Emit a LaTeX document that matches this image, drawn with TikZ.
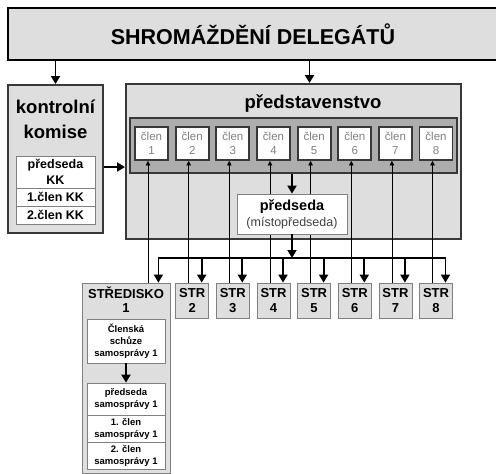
\documentclass[tikz,border=0pt]{standalone}
\usepackage{fontspec}
\setmainfont{Liberation Sans}
\usetikzlibrary{arrows.meta,positioning}
\definecolor{svetla}{gray}{0.87}
\definecolor{tmava}{gray}{0.68}
\definecolor{ramecek}{gray}{0.22}
\tikzstyle{box} = [draw, rectangle, inner sep=0pt, align=center]
\tikzstyle{arr} = [line width=1.8pt, -{Triangle[length=8pt,width=9pt]}]
\tikzstyle{tenka} = [line width=0.6pt, {Triangle[length=4.5pt,width=4.5pt]}-]

\begin{document}
\begin{tikzpicture}[x=1pt,y=-1pt]
        \useasboundingbox[fill=white] (0,0) rectangle (496,474);
        \tikzstyle{hlavni} = [box, fill=svetla, draw=ramecek, line width=2pt]
        \tikzstyle{clen} = [box, fill=white, draw=ramecek, line width=1.8pt, minimum width=33pt, minimum height=33pt, text=gray, font=\fontsize{11.5}{14}\selectfont]
        \tikzstyle{str} = [box, fill=svetla, draw=gray, line width=0.8pt, minimum width=33pt, minimum height=35pt, font=\fontsize{13}{15}\selectfont\bfseries]
        \tikzstyle{radek} = [box, fill=white, draw=gray, line width=0.7pt, font=\fontsize{9.5}{12}\selectfont\bfseries]

        \node[hlavni, line width=2.5pt, draw=black, minimum width=490pt, minimum height=52pt, font=\fontsize{21.5}{24}\selectfont\bfseries] (shrom) at (253,34) {SHROMÁŽDĚNÍ DELEGÁTŮ};

        % kontrolni komise
        \node[hlavni, minimum width=95pt, minimum height=148pt] (kontr) at (55.5,159) {};
        \node[font=\fontsize{18.5}{20}\selectfont\bfseries] (kontr1) at (55.5,107) {kontrolní};
        \node[font=\fontsize{18.5}{20}\selectfont\bfseries] (kontr2) at (55.5,132) {komise};
        \node[radek, minimum width=79pt, minimum height=32pt, font=\fontsize{12.5}{16}\selectfont\bfseries] (kkpred) at (55.5,172) {předseda\\KK};
        \node[radek, minimum width=79pt, minimum height=18pt, font=\fontsize{12.5}{16}\selectfont\bfseries] (kk1) at (55.5,197) {1.člen KK};
        \node[radek, minimum width=79pt, minimum height=18pt, font=\fontsize{12.5}{16}\selectfont\bfseries] (kk2) at (55.5,215) {2.člen KK};

        % predstavenstvo
        \node[hlavni, minimum width=335pt, minimum height=155pt] (predst) at (293.5,161.5) {};
        \node[font=\fontsize{18.5}{20}\selectfont\bfseries] (predst1) at (313,104) {představenstvo};
        \node[box, fill=tmava, draw=ramecek, line width=2pt, minimum width=327pt, minimum height=55pt] (pas) at (293.5,145.5) {};

        \node[clen] (c1) at (151.5,143.5) {člen\\1};
        \node[clen] (c2) at (192.2,143.5) {člen\\2};
        \node[clen] (c3) at (232.8,143.5) {člen\\3};
        \node[clen] (c4) at (273.5,143.5) {člen\\4};
        \node[clen] (c5) at (314.1,143.5) {člen\\5};
        \node[clen] (c6) at (354.8,143.5) {člen\\6};
        \node[clen] (c7) at (395.4,143.5) {člen\\7};
        \node[clen] (c8) at (436.0,143.5) {člen\\8};

        % strediska
        \node[box, fill=svetla, draw=gray, line width=0.8pt, minimum width=88pt, minimum height=190pt] (s1) at (126,378) {};
        \node[font=\fontsize{13}{15}\selectfont\bfseries] (s1t) at (126,293) {STŘEDISKO};
        \node[font=\fontsize{13}{15}\selectfont\bfseries] (s1n) at (126,308) {1};
        \node[str] (s2) at (192.2,300.5) {STR\\2};
        \node[str] (s3) at (232.8,300.5) {STR\\3};
        \node[str] (s4) at (273.5,300.5) {STR\\4};
        \node[str] (s5) at (314.1,300.5) {STR\\5};
        \node[str] (s6) at (354.8,300.5) {STR\\6};
        \node[str] (s7) at (395.4,300.5) {STR\\7};
        \node[str] (s8) at (436.0,300.5) {STR\\8};

        \draw[tenka] ([xshift=-3.5pt]c1.south) -- ([xshift=-3.5pt]c1.south |- s1.north);
        \draw[tenka] ([xshift=-3.5pt]c2.south) -- ([xshift=-3.5pt]s2.north);
        \draw[tenka] ([xshift=-3.5pt]c3.south) -- ([xshift=-3.5pt]s3.north);
        \draw[tenka] ([xshift=-3.5pt]c4.south) -- ([xshift=-3.5pt]s4.north);
        \draw[tenka] ([xshift=-3.5pt]c5.south) -- ([xshift=-3.5pt]s5.north);
        \draw[tenka] ([xshift=-3.5pt]c6.south) -- ([xshift=-3.5pt]s6.north);
        \draw[tenka] ([xshift=-3.5pt]c7.south) -- ([xshift=-3.5pt]s7.north);
        \draw[tenka] ([xshift=-3.5pt]c8.south) -- ([xshift=-3.5pt]s8.north);

        \node[box, fill=white, draw=gray, line width=0.8pt, minimum width=110pt, minimum height=40pt, font=\fontsize{12.5}{16}\selectfont] (predseda) at (292,214) {{\fontsize{14.5}{16}\selectfont\bfseries předseda}\\{\color{darkgray}(místopředseda)}};

        \node[radek, minimum width=78pt, minimum height=44pt] (schuze) at (126,341) {Členská\\schůze\\samosprávy 1};
        \node[radek, minimum width=78pt, minimum height=32pt] (sampred) at (126,399) {předseda\\samosprávy 1};
        \node[radek, minimum width=78pt, minimum height=27pt] (sam1) at (126,428.5) {1. člen\\samosprávy 1};
        \node[radek, minimum width=78pt, minimum height=27pt] (sam2) at (126,455.5) {2. člen\\samosprávy 1};

        % sipky
        \coordinate (bus) at (293,258);
        \draw[arr] (shrom.south -| kontr.north) -- (kontr.north);
        \draw[arr] ([xshift=16pt]predst.north |- shrom.south) -- ([xshift=16pt]predst.north);
        \draw[arr] ([yshift=-8pt]kontr.east) -- ([yshift=-8pt]kontr.east -| predst.west);
        \draw[arr] (predseda.north |- pas.south) -- (predseda.north);
        \draw[arr] (predseda.south) -- (predseda.south |- bus);
        \draw[line width=1.8pt, line cap=rect] ([xshift=-12pt]s1.north east |- bus) -- ([xshift=9.5pt]s8.north |- bus);
        \draw[arr] ([xshift=-12pt]s1.north east |- bus) -- ([xshift=-12pt]s1.north east);
        \draw[arr] ([xshift=9.5pt]s2.north |- bus) -- ([xshift=9.5pt]s2.north);
        \draw[arr] ([xshift=9.5pt]s3.north |- bus) -- ([xshift=9.5pt]s3.north);
        \draw[arr] ([xshift=9.5pt]s4.north |- bus) -- ([xshift=9.5pt]s4.north);
        \draw[arr] ([xshift=9.5pt]s5.north |- bus) -- ([xshift=9.5pt]s5.north);
        \draw[arr] ([xshift=9.5pt]s6.north |- bus) -- ([xshift=9.5pt]s6.north);
        \draw[arr] ([xshift=9.5pt]s7.north |- bus) -- ([xshift=9.5pt]s7.north);
        \draw[arr] ([xshift=9.5pt]s8.north |- bus) -- ([xshift=9.5pt]s8.north);
        \draw[arr] (schuze.south) -- (sampred.north);
\end{tikzpicture}
\end{document}
